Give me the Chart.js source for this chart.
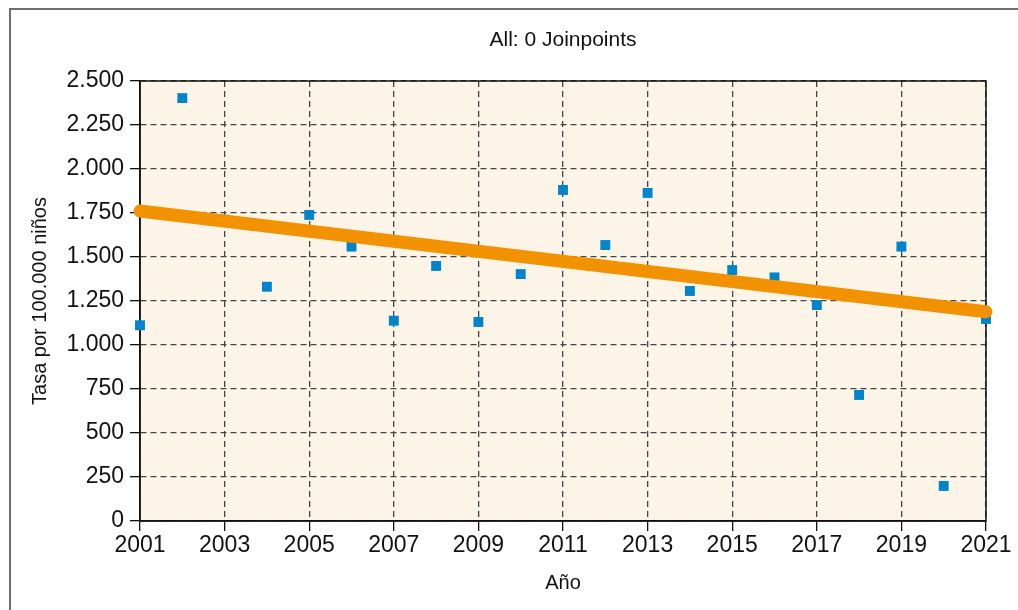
<!DOCTYPE html>
<html>
<head>
<meta charset="utf-8">
<script src="https://cdn.jsdelivr.net/npm/chart.js@4"></script>
<style>
html,body{margin:0;padding:0;background:#fff;}
#wrap{width:1018px;height:610px;}
</style>
</head>
<body>
<div id="wrap"><canvas id="chart" width="1018" height="610"></canvas></div>
<script>

/* DATA */

const years = [2001,2002,2003,2004,2005,2006,2007,2008,2009,2010,2011,2012,2013,2014,2015,2016,2017,2018,2019,2020,2021];
const rates = [1112,2403,1712,1331,1739,1559,1138,1449,1131,1403,1881,1568,1864,1307,1426,1384,1227,716,1559,199,1148];

const fitYears = [2001,2021];
const fitRates = [1761,1189];

const yTicks = [0,250,500,750,1000,1250,1500,1750,2000,2250,2500];
const xTicks = [2001,2003,2005,2007,2009,2011,2013,2015,2017,2019,2021];

const chartTitle = "All: 0 Joinpoints";

const font = "'Liberation Sans', Arial, sans-serif";

function dots(v){
return String(v).replace(/\B(?=(\d{3})+(?!\d))/g,".");
}

/* background, outer frame, plot border, title over the plot */

const frame = {
id:"frame",
beforeDraw(chart){
const c = chart.ctx, a = chart.chartArea;
c.save();
c.fillStyle = "#fdf4e8";
c.fillRect(a.left,a.top,a.right-a.left,a.bottom-a.top);
c.strokeStyle = "#6e6e6e";
c.lineWidth = 2;
c.beginPath();
c.moveTo(10,chart.height+5);
c.lineTo(10,9);
c.lineTo(chart.width+5,9);
c.stroke();
c.fillStyle = "#111";
c.font = "21px " + font;
c.textAlign = "center";
c.textBaseline = "middle";
c.fillText(chartTitle,(a.left+a.right)/2,40);
c.restore();
},
beforeDatasetsDraw(chart){
const c = chart.ctx, a = chart.chartArea;
c.save();
c.strokeStyle = "#111";
c.lineWidth = 1.5;
c.strokeRect(a.left,a.top,a.right-a.left,a.bottom-a.top);
c.restore();
}
};

new Chart(
document.getElementById("chart"),
{
type:"scatter",
data:{
datasets:[
{
label:"Fit",
type:"line",
data:fitYears.map((x,i)=>({x:x,y:fitRates[i]})),
borderColor:"#f39200",
borderWidth:13,
borderCapStyle:"round",
pointRadius:0,
fill:false,
clip:false,
order:0
},
{
label:"Observed",
data:years.map((x,i)=>({x:x,y:rates[i]})),
backgroundColor:"#0084cc",
borderColor:"#0084cc",
borderWidth:0,
pointStyle:"rect",
pointRadius:7,
clip:false,
order:1
}
]
},
options:{
responsive:false,
animation:false,
layout:{padding:{left:0,right:32,top:81,bottom:0}},
plugins:{
legend:{display:false},
tooltip:{enabled:false},
title:{display:false}
},
scales:{
x:{
type:"linear",
min:2001,
max:2021,
afterFit(s){ s.height = 89; },
afterBuildTicks(s){ s.ticks = xTicks.map(v=>({value:v})); },
ticks:{
color:"#111",
font:{family:font,size:23},
padding:1,
maxRotation:0,
callback:v=>String(v)
},
grid:{
color:"#444",
tickColor:"#111",
tickLength:10,
tickBorderDash:[],
lineWidth:1.3
},
border:{display:true,color:"#111",width:1.5,dash:[6,4]},
title:{
display:true,
text:"Año",
color:"#111",
font:{family:font,size:20},
padding:{top:0,bottom:15}
}
},
y:{
min:0,
max:2500,
afterFit(s){ s.width = 140; },
afterBuildTicks(s){ s.ticks = yTicks.map(v=>({value:v})); },
ticks:{
color:"#111",
font:{family:font,size:23},
padding:6,
callback:v=>dots(v)
},
grid:{
color:"#444",
tickColor:"#111",
tickLength:10,
tickBorderDash:[],
lineWidth:1.3
},
border:{display:true,color:"#111",width:1.5,dash:[6,4]},
title:{
display:true,
text:"Tasa por 100.000 niños",
color:"#111",
font:{family:font,size:20},
padding:{top:28,bottom:0}
}
}
}
},
plugins:[frame]
}
);
</script>
</body>
</html>
